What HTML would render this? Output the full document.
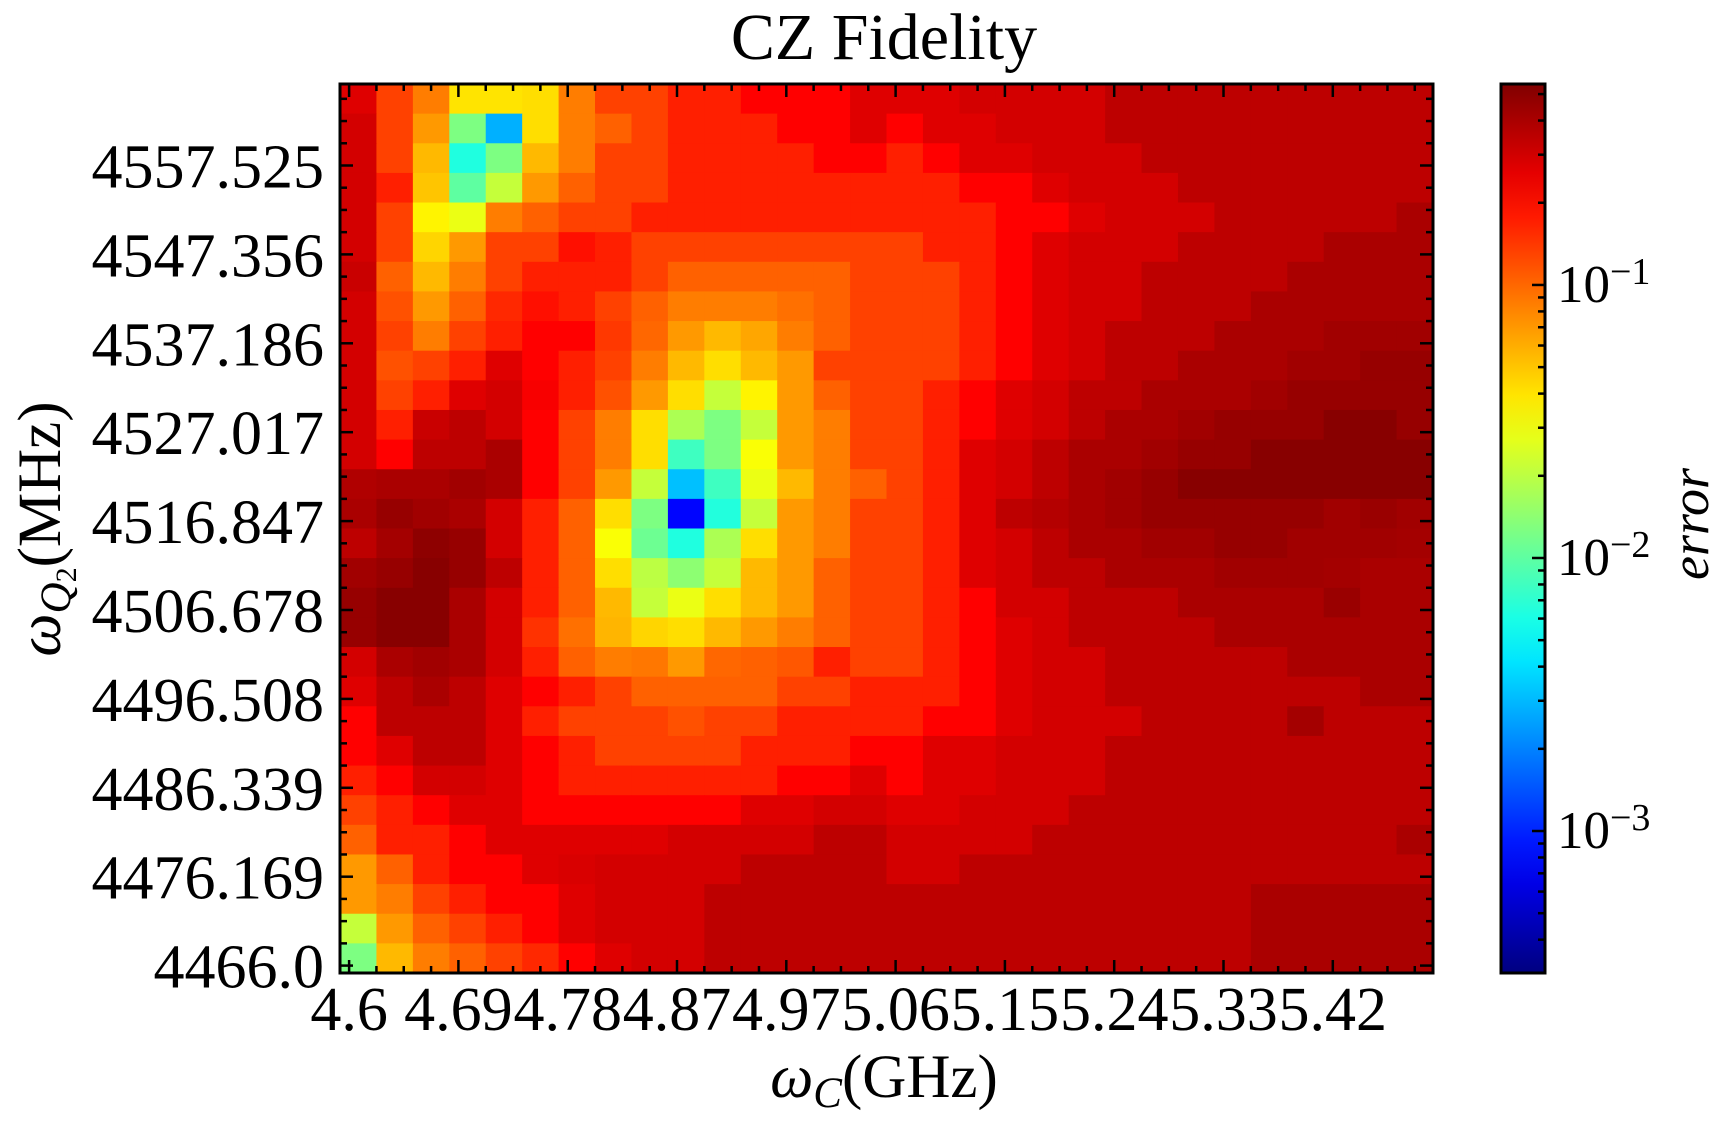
<!DOCTYPE html>
<html><head><meta charset="utf-8"><title>CZ Fidelity</title>
<style>
html,body{margin:0;padding:0;background:#fff;}
svg{display:block;font-family:"Liberation Serif",serif;}
</style></head>
<body>
<svg id="chart" width="1733" height="1131" viewBox="0 0 1733 1131" xmlns="http://www.w3.org/2000/svg">
<text x="884" y="59" font-size="66" text-anchor="middle">CZ Fidelity</text>
<g id="heatmap"></g>
<g id="axes"></g>
<defs><linearGradient id="jetgrad" x1="0" y1="1" x2="0" y2="0"></linearGradient></defs>
<g id="colorbar"></g>
<text x="884" y="1097" font-size="61" text-anchor="middle"><tspan font-style="italic">ω</tspan><tspan font-style="italic" font-size="43" dy="10">C</tspan><tspan dy="-10">(GHz)</tspan></text>
<text transform="translate(60,529) rotate(-90)" font-size="61" text-anchor="middle"><tspan font-style="italic">ω</tspan><tspan font-style="italic" font-size="43" dy="10">Q</tspan><tspan font-size="30" dy="6">2</tspan><tspan dy="-16">(MHz)</tspan></text>
<text transform="translate(1708,524) rotate(-90)" font-size="54" font-style="italic" text-anchor="middle">error</text>
</svg>
<script>
// ---- data ----
const xStart = 4.6, xStep = 0.9/59;          // GHz, 60 sample columns
const yStart = 4466.0, yStep = 100/59;        // MHz, 60 sample rows
const xTickLabels = ["4.6","4.69","4.78","4.87","4.97","5.06","5.15","5.24","5.33","5.42"];
const yTickLabels = ["4466.0","4476.169","4486.339","4496.508","4506.678","4516.847","4527.017","4537.186","4547.356","4557.525"];
const cbarTickExps = [-1,-2,-3];
const logMin = -3.52, logMax = -0.264;
// log10(error), 30 columns (2 samples each) x 30 rows (2 samples each), top row first
const logError = [
[-0.57,-0.88,-1.07,-1.4,-1.4,-1.38,-1.07,-0.88,-0.88,-0.77,-0.77,-0.67,-0.67,-0.67,-0.57,-0.57,-0.57,-0.53,-0.53,-0.53,-0.53,-0.46,-0.46,-0.46,-0.46,-0.46,-0.46,-0.46,-0.46,-0.46],
[-0.53,-0.88,-1.16,-1.9,-2.55,-1.38,-1.07,-0.98,-0.88,-0.77,-0.77,-0.77,-0.67,-0.67,-0.57,-0.67,-0.57,-0.57,-0.53,-0.53,-0.53,-0.46,-0.46,-0.46,-0.46,-0.46,-0.46,-0.46,-0.46,-0.46],
[-0.53,-0.88,-1.26,-2.2,-1.9,-1.26,-1.07,-0.88,-0.88,-0.77,-0.77,-0.77,-0.77,-0.67,-0.67,-0.77,-0.67,-0.57,-0.57,-0.53,-0.53,-0.53,-0.46,-0.46,-0.46,-0.46,-0.46,-0.46,-0.46,-0.46],
[-0.53,-0.77,-1.3,-2.0,-1.67,-1.16,-0.98,-0.88,-0.88,-0.77,-0.77,-0.77,-0.77,-0.77,-0.77,-0.77,-0.77,-0.67,-0.67,-0.57,-0.53,-0.53,-0.53,-0.46,-0.46,-0.46,-0.46,-0.46,-0.46,-0.46],
[-0.53,-0.88,-1.45,-1.55,-1.07,-0.98,-0.88,-0.88,-0.77,-0.77,-0.77,-0.77,-0.77,-0.77,-0.77,-0.77,-0.77,-0.77,-0.67,-0.67,-0.57,-0.53,-0.53,-0.53,-0.46,-0.46,-0.46,-0.46,-0.46,-0.40],
[-0.53,-0.88,-1.35,-1.16,-0.88,-0.88,-0.72,-0.77,-0.88,-0.88,-0.88,-0.88,-0.88,-0.88,-0.88,-0.88,-0.77,-0.77,-0.67,-0.57,-0.53,-0.53,-0.53,-0.46,-0.46,-0.46,-0.46,-0.40,-0.40,-0.40],
[-0.50,-0.98,-1.26,-1.07,-0.88,-0.77,-0.77,-0.77,-0.88,-0.98,-0.98,-0.98,-0.98,-0.98,-0.88,-0.88,-0.88,-0.77,-0.67,-0.57,-0.53,-0.53,-0.46,-0.46,-0.46,-0.46,-0.40,-0.40,-0.40,-0.40],
[-0.53,-0.93,-1.16,-0.98,-0.80,-0.72,-0.77,-0.88,-0.98,-1.07,-1.07,-1.07,-1.03,-0.98,-0.88,-0.88,-0.88,-0.77,-0.67,-0.57,-0.53,-0.53,-0.46,-0.46,-0.46,-0.40,-0.40,-0.40,-0.40,-0.40],
[-0.53,-0.88,-1.07,-0.88,-0.77,-0.67,-0.67,-0.85,-1.0,-1.16,-1.26,-1.2,-1.07,-0.98,-0.88,-0.88,-0.88,-0.77,-0.67,-0.57,-0.53,-0.46,-0.46,-0.46,-0.40,-0.40,-0.40,-0.37,-0.37,-0.37],
[-0.53,-0.93,-0.88,-0.77,-0.57,-0.67,-0.77,-0.88,-1.07,-1.26,-1.38,-1.26,-1.16,-0.88,-0.88,-0.88,-0.88,-0.77,-0.67,-0.57,-0.53,-0.46,-0.46,-0.40,-0.40,-0.40,-0.37,-0.37,-0.34,-0.34],
[-0.53,-0.88,-0.77,-0.57,-0.53,-0.65,-0.77,-0.93,-1.16,-1.38,-1.67,-1.45,-1.16,-0.98,-0.88,-0.88,-0.77,-0.67,-0.57,-0.53,-0.46,-0.46,-0.40,-0.40,-0.40,-0.37,-0.34,-0.34,-0.34,-0.34],
[-0.53,-0.77,-0.50,-0.46,-0.53,-0.67,-0.88,-1.07,-1.38,-1.75,-1.9,-1.67,-1.16,-1.07,-0.88,-0.88,-0.77,-0.67,-0.57,-0.53,-0.46,-0.40,-0.40,-0.37,-0.34,-0.34,-0.34,-0.29,-0.29,-0.34],
[-0.53,-0.67,-0.46,-0.46,-0.40,-0.67,-0.88,-1.07,-1.38,-2.1,-1.9,-1.5,-1.16,-1.07,-0.88,-0.88,-0.77,-0.57,-0.53,-0.46,-0.40,-0.40,-0.37,-0.34,-0.34,-0.29,-0.29,-0.29,-0.29,-0.29],
[-0.42,-0.40,-0.40,-0.37,-0.40,-0.67,-0.88,-1.16,-1.67,-2.5,-2.1,-1.55,-1.26,-1.07,-0.98,-0.88,-0.77,-0.57,-0.53,-0.46,-0.40,-0.37,-0.34,-0.29,-0.29,-0.29,-0.29,-0.29,-0.29,-0.29],
[-0.40,-0.34,-0.37,-0.40,-0.53,-0.77,-0.98,-1.38,-1.9,-3.1,-2.19,-1.67,-1.16,-1.07,-0.88,-0.88,-0.77,-0.57,-0.46,-0.43,-0.40,-0.37,-0.34,-0.34,-0.34,-0.34,-0.34,-0.37,-0.35,-0.37],
[-0.46,-0.38,-0.31,-0.34,-0.53,-0.77,-0.98,-1.5,-1.95,-2.2,-1.75,-1.38,-1.16,-1.07,-0.88,-0.88,-0.77,-0.57,-0.53,-0.46,-0.40,-0.40,-0.37,-0.37,-0.34,-0.34,-0.37,-0.37,-0.37,-0.38],
[-0.37,-0.34,-0.29,-0.34,-0.46,-0.77,-0.98,-1.38,-1.7,-1.85,-1.67,-1.26,-1.16,-0.98,-0.88,-0.88,-0.77,-0.57,-0.53,-0.46,-0.46,-0.40,-0.40,-0.40,-0.37,-0.37,-0.37,-0.38,-0.40,-0.40],
[-0.34,-0.29,-0.29,-0.40,-0.53,-0.77,-0.98,-1.26,-1.67,-1.55,-1.38,-1.26,-1.16,-0.98,-0.88,-0.88,-0.77,-0.67,-0.53,-0.53,-0.46,-0.46,-0.46,-0.40,-0.40,-0.40,-0.40,-0.35,-0.40,-0.40],
[-0.34,-0.29,-0.29,-0.40,-0.53,-0.83,-1.03,-1.25,-1.35,-1.38,-1.26,-1.16,-1.07,-0.98,-0.88,-0.88,-0.77,-0.67,-0.57,-0.53,-0.46,-0.46,-0.46,-0.46,-0.40,-0.40,-0.40,-0.40,-0.40,-0.40],
[-0.53,-0.40,-0.37,-0.40,-0.53,-0.77,-0.98,-1.07,-1.05,-1.16,-1.0,-0.98,-0.95,-0.77,-0.88,-0.88,-0.77,-0.67,-0.57,-0.53,-0.53,-0.46,-0.46,-0.46,-0.46,-0.46,-0.40,-0.40,-0.40,-0.40],
[-0.57,-0.46,-0.40,-0.46,-0.57,-0.67,-0.77,-0.88,-0.98,-0.98,-0.98,-0.98,-0.88,-0.88,-0.77,-0.77,-0.77,-0.67,-0.57,-0.53,-0.53,-0.46,-0.46,-0.46,-0.46,-0.46,-0.46,-0.46,-0.40,-0.40],
[-0.67,-0.46,-0.46,-0.46,-0.57,-0.77,-0.88,-0.88,-0.88,-0.93,-0.88,-0.88,-0.77,-0.77,-0.77,-0.77,-0.67,-0.67,-0.57,-0.53,-0.53,-0.53,-0.46,-0.46,-0.46,-0.46,-0.38,-0.46,-0.46,-0.46],
[-0.67,-0.57,-0.46,-0.46,-0.57,-0.67,-0.77,-0.88,-0.88,-0.88,-0.88,-0.77,-0.77,-0.77,-0.67,-0.67,-0.57,-0.57,-0.53,-0.53,-0.53,-0.46,-0.46,-0.46,-0.46,-0.46,-0.46,-0.46,-0.46,-0.46],
[-0.77,-0.67,-0.53,-0.53,-0.57,-0.67,-0.77,-0.77,-0.77,-0.77,-0.77,-0.77,-0.67,-0.67,-0.57,-0.67,-0.57,-0.57,-0.53,-0.53,-0.53,-0.46,-0.46,-0.46,-0.46,-0.46,-0.46,-0.46,-0.46,-0.46],
[-0.88,-0.77,-0.67,-0.57,-0.57,-0.67,-0.67,-0.67,-0.67,-0.67,-0.67,-0.57,-0.57,-0.53,-0.53,-0.57,-0.57,-0.53,-0.53,-0.53,-0.46,-0.46,-0.46,-0.46,-0.46,-0.46,-0.46,-0.46,-0.46,-0.46],
[-0.98,-0.77,-0.77,-0.67,-0.57,-0.57,-0.57,-0.57,-0.57,-0.53,-0.53,-0.53,-0.53,-0.46,-0.46,-0.53,-0.53,-0.53,-0.53,-0.46,-0.46,-0.46,-0.46,-0.46,-0.46,-0.46,-0.46,-0.46,-0.46,-0.40],
[-1.16,-0.98,-0.77,-0.67,-0.67,-0.57,-0.55,-0.53,-0.53,-0.53,-0.53,-0.46,-0.46,-0.46,-0.46,-0.53,-0.53,-0.46,-0.46,-0.46,-0.46,-0.46,-0.46,-0.46,-0.46,-0.46,-0.46,-0.46,-0.46,-0.46],
[-1.16,-1.07,-0.88,-0.77,-0.67,-0.67,-0.57,-0.53,-0.53,-0.53,-0.46,-0.46,-0.46,-0.46,-0.46,-0.46,-0.46,-0.46,-0.46,-0.46,-0.46,-0.46,-0.46,-0.46,-0.46,-0.40,-0.40,-0.40,-0.40,-0.40],
[-1.67,-1.16,-0.98,-0.88,-0.77,-0.67,-0.57,-0.53,-0.53,-0.53,-0.46,-0.46,-0.46,-0.46,-0.46,-0.46,-0.46,-0.46,-0.46,-0.46,-0.46,-0.46,-0.46,-0.46,-0.46,-0.40,-0.40,-0.40,-0.40,-0.40],
[-1.9,-1.26,-1.07,-0.98,-0.88,-0.80,-0.67,-0.57,-0.53,-0.53,-0.46,-0.46,-0.46,-0.46,-0.46,-0.46,-0.46,-0.46,-0.46,-0.46,-0.46,-0.46,-0.46,-0.46,-0.46,-0.40,-0.40,-0.40,-0.40,-0.40]
];

// ---- layout ----
const NS = "http://www.w3.org/2000/svg";
const PL = 340, PR = 1433, PT = 84, PB = 973;
const NX = 60, NY = 60;
const colW = (PR - PL) / NX, rowH = (PB - PT) / NY;
function xScale(v){ return PL + ((v - xStart) / xStep + 0.5) * colW; }
function yScale(v){ return PB - ((v - yStart) / yStep + 0.5) * rowH; }
const CBL = 1501, CBR = 1545;
function cScale(lg){ return PB - (lg - logMin) / (logMax - logMin) * (PB - PT); }
function jet(t){
  t = Math.max(0, Math.min(1, t));
  const c = v => Math.round(255 * Math.max(0, Math.min(1, v)));
  const r = 1.5 - Math.abs(4*t - 3), g = 1.5 - Math.abs(4*t - 2), b = 1.5 - Math.abs(4*t - 1);
  return `rgb(${c(r)},${c(g)},${c(b)})`;
}
function mk(tag, attrs, parent){
  const e = document.createElementNS(NS, tag);
  for (const k in attrs) e.setAttribute(k, attrs[k]);
  parent.appendChild(e); return e;
}

// heatmap cells
const hm = document.getElementById('heatmap');
const nRows = logError.length, nCols = logError[0].length;
const blockX = NX / nCols, blockY = NY / nRows;
for (let r = 0; r < nRows; r++) {
  for (let c = 0; c < nCols; c++) {
    const xv = xStart + (c * blockX) * xStep;                 // first sample of block
    const yv = yStart + ((nRows - 1 - r) * blockY) * yStep;   // bottom sample of block
    const x0 = xScale(xv) - colW/2, y1 = yScale(yv) + rowH/2;
    const t = (logError[r][c] - logMin) / (logMax - logMin);
    const el = mk('rect', {x: x0.toFixed(2), y: (y1 - blockY*rowH).toFixed(2), width: (blockX*colW + 0.6).toFixed(2), height: (blockY*rowH + 0.6).toFixed(2), fill: jet(t)}, hm);
    
    
  }
}

// axes frame & ticks
const ax = document.getElementById('axes');
const frame = mk('rect', {x: PL, y: PT, width: PR-PL, height: PB-PT, fill: 'none', stroke: '#000', 'stroke-width': 3}, ax);


function tick(x1,y1,x2,y2,w){ mk('line',{x1,y1,x2,y2,stroke:'#000','stroke-width':w},ax); }
// x ticks
for (let k = 0; k <= 40; k++) {
  const idx = k * 1.5;
  const xv = xStart + idx * xStep;
  const px = xScale(xv);
  if (px > PR - 1) break;
  const major = (k % 4 === 0);
  const L = major ? 13 : 7;
  tick(px, PB, px, PB - L, 2.5);
  tick(px, PT, px, PT + L, 2.5);
  if (major && xTickLabels[k/4] !== undefined) {
    const t = mk('text', {x: px, y: 1030, 'font-size': 62, 'text-anchor': 'middle'}, ax);
    t.textContent = xTickLabels[k/4];
    
    
  }
}
// y ticks
for (let k = 0; k <= 40; k++) {
  const idx = k * 1.5;
  const yv = yStart + idx * yStep;
  const py = yScale(yv);
  if (py < PT + 1) break;
  const major = (k % 4 === 0);
  const L = major ? 13 : 7;
  tick(PL, py, PL + L, py, 2.5);
  tick(PR, py, PR - L, py, 2.5);
  if (major && yTickLabels[k/4] !== undefined) {
    const t = mk('text', {x: 324, y: py + 22, 'font-size': 62, 'text-anchor': 'end'}, ax);
    t.textContent = yTickLabels[k/4];
    
    
  }
}

// colorbar
const grad = document.getElementById('jetgrad');
for (let i = 0; i <= 20; i++) {
  mk('stop', {offset: (i/20).toFixed(2), 'stop-color': jet(i/20)}, grad);
}
const cb = document.getElementById('colorbar');
const bar = mk('rect', {x: CBL, y: PT, width: CBR-CBL, height: PB-PT, fill: 'url(#jetgrad)', stroke: '#000', 'stroke-width': 3}, cb);


for (let e = -4; e <= 0; e++) {
  for (let m = 1; m <= 9; m++) {
    const lg = e + Math.log10(m);
    if (lg < logMin || lg > logMax) continue;
    const py = cScale(lg);
    const L = m === 1 ? 13 : 7;
    mk('line', {x1: CBR, y1: py, x2: CBR - L, y2: py, stroke: '#000', 'stroke-width': 2.5}, cb);
  }
}
cbarTickExps.forEach(e => {
  const py = cScale(e);
  const t = mk('text', {x: 1557, y: py + 17, 'font-size': 53}, cb);
  
  
  const a = document.createElementNS(NS, 'tspan'); a.textContent = '10'; t.appendChild(a);
  const b = document.createElementNS(NS, 'tspan'); b.setAttribute('font-size', '38'); b.setAttribute('dy', '-18'); b.textContent = '−' + Math.abs(e); t.appendChild(b);
});
</script>
</body></html>
